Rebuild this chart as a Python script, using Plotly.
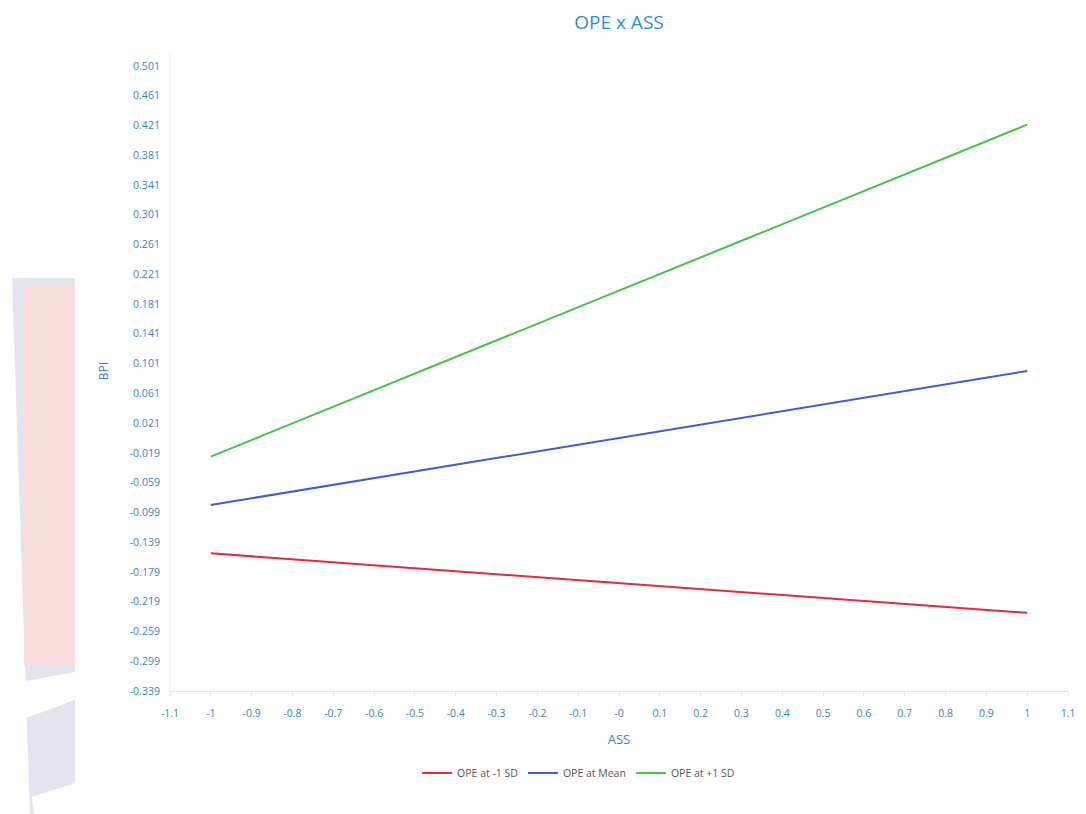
import plotly.graph_objects as go

# Simple slopes of BPI on ASS at three levels of the moderator OPE
ass_x = [-1, 1]
series_names = ["OPE at -1 SD", "OPE at Mean", "OPE at +1 SD"]
bpi_low = [-0.154, -0.234]
bpi_mean = [-0.089, 0.091]
bpi_high = [-0.024, 0.422]
series_colors = ["#e8283c", "#3d5fcf", "#3fc63f"]

x_ticks = [round(-1.1 + 0.1 * i, 1) for i in range(23)]
x_tick_text = ["-1.1", "-1", "-0.9", "-0.8", "-0.7", "-0.6", "-0.5", "-0.4", "-0.3", "-0.2",
               "-0.1", "-0", "0.1", "0.2", "0.3", "0.4", "0.5", "0.6", "0.7", "0.8", "0.9", "1", "1.1"]
y_ticks = [round(-0.339 + 0.04 * i, 3) for i in range(22)]
y_tick_text = [f"{v:.3f}" for v in y_ticks]

W, H = 1086, 814
ML, MR, MT, MB = 170, 18, 51, 123
PW, PH = W - ML - MR, H - MT - MB

TEXT_BLUE = "#3584c6"
FONT = "Open Sans"

fig = go.Figure()
for name, ys, col in zip(series_names, [bpi_low, bpi_mean, bpi_high], series_colors):
    fig.add_trace(go.Scatter(x=ass_x, y=ys, mode="lines", name=name,
                             line=dict(color=col, width=2)))


def px(x, y):
    """Pixel position on the page to paper coordinates."""
    return (x - ML) / PW, (H - MB - y) / PH


def poly(points, color):
    pts = [px(x, y) for x, y in points]
    path = "M " + " L ".join(f"{a:.5f},{b:.5f}" for a, b in pts) + " Z"
    return dict(type="path", xref="paper", yref="paper", path=path,
                fillcolor=color, line=dict(width=0), layer="below")


# Faded decoration along the left page edge
shapes = [
    poly([(12, 278), (75, 278), (75, 814), (30, 814)], "#e2e5ef"),
    poly([(24, 286), (75, 286), (75, 665), (24, 665)], "#f9dcdc"),
    poly([(25, 681), (75, 672), (75, 700), (26, 718)], "#ffffff"),
    poly([(32, 797), (75, 783), (75, 814), (34, 814)], "#ffffff"),
]

fig.update_layout(
    width=W, height=H,
    margin=dict(l=ML, r=MR, t=MT, b=MB),
    paper_bgcolor="white", plot_bgcolor="white",
    font=dict(family=FONT, color=TEXT_BLUE),
    title=dict(text="OPE x ASS", x=0.5, xanchor="center", xref="paper",
               y=1 - 22 / H, yanchor="middle",
               font=dict(size=19, color="#2e8fd8", family=FONT)),
    xaxis=dict(range=[-1.1, 1.1], tickmode="array", tickvals=x_ticks, ticktext=x_tick_text,
               showgrid=False, zeroline=False, showline=True, linecolor="#e3e3e3", linewidth=1,
               ticks="outside", ticklen=4, tickcolor="#f0e6dc", ticklabelstandoff=8,
               tickfont=dict(size=10.5, color=TEXT_BLUE),
               title=dict(text="ASS", font=dict(size=13, color=TEXT_BLUE), standoff=16)),
    yaxis=dict(range=[-0.339, 0.521], tickmode="array", tickvals=y_ticks, ticktext=y_tick_text,
               showgrid=False, zeroline=False, showline=True, linecolor="#f3eee8", linewidth=1,
               ticks="", tickfont=dict(size=10.5, color=TEXT_BLUE), ticklabelstandoff=7,
               title=dict(text="BPI", font=dict(size=12, color=TEXT_BLUE), standoff=18)),
    legend=dict(orientation="h", x=0.455, xanchor="center", y=(H - MB - 773) / PH, yanchor="middle",
                font=dict(size=10.5, color="#555555"), tracegroupgap=0),
    showlegend=True,
    shapes=shapes,
)

fig.write_html("out.html")
